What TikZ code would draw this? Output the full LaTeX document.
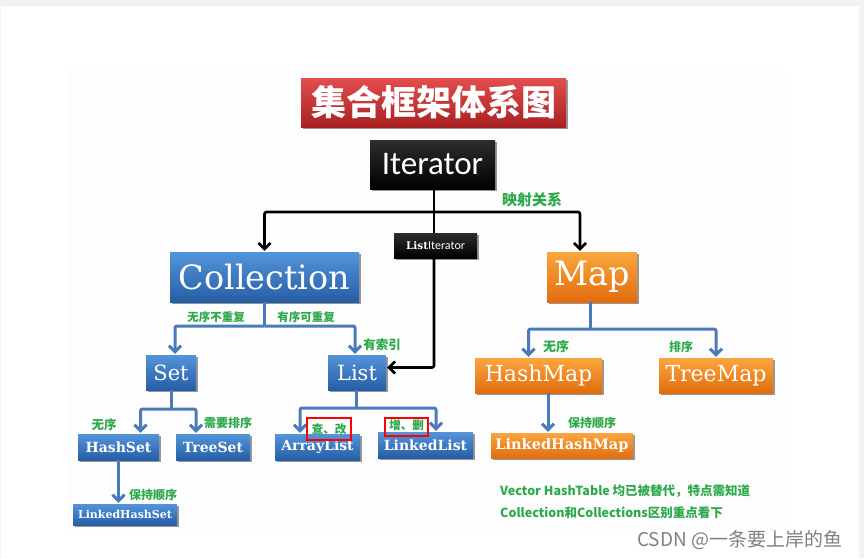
\documentclass[tikz,border=0pt]{standalone}
\usepackage{fontspec}
\setmainfont{DejaVu Serif}
\newfontfamily\cjk{Noto Sans CJK SC}
\newfontfamily\carl{Carlito}
\usetikzlibrary{arrows.meta,shadows,calc}
\definecolor{bluet}{RGB}{84,148,218}
\definecolor{blueb}{RGB}{38,94,166}
\definecolor{oranget}{RGB}{250,166,62}
\definecolor{orangeb}{RGB}{226,108,14}
\definecolor{redt}{RGB}{226,78,78}
\definecolor{redb}{RGB}{170,32,34}
\definecolor{blkt}{RGB}{45,45,45}
\definecolor{blkb}{RGB}{0,0,0}
\definecolor{bluel}{RGB}{74,122,186}
\definecolor{grn}{RGB}{44,170,74}
\definecolor{wm}{RGB}{128,128,128}
\definecolor{framec}{RGB}{242,242,242}
\definecolor{slide}{RGB}{253,253,253}
\begin{document}
\begin{tikzpicture}[x=1pt,y=-1pt,
  box/.style={inner sep=0pt, align=center, text=white,
    drop shadow={shadow xshift=1.5pt,shadow yshift=-2pt,opacity=0.4,fill=black}},
  bluebox/.style={box, top color=bluet, bottom color=blueb},
  orbox/.style={box, top color=oranget, bottom color=orangeb},
  redbox/.style={box, top color=redt, bottom color=redb},
  blkbox/.style={box, top color=blkt, bottom color=blkb},
  blu/.style={draw=bluel, line width=3pt, rounded corners=2pt,
    -{Straight Barb[length=6pt,width=12pt]}, shorten >=1pt},
  bluplain/.style={draw=bluel, line width=3pt},
  blk/.style={draw=black, line width=2.6pt, rounded corners=2pt,
    -{Straight Barb[length=6pt,width=12pt]}, shorten >=1pt},
  blkplain/.style={draw=black, line width=2.6pt},
  lbl/.style={text=grn, inner sep=0pt, font=\cjk\bfseries\fontsize{12}{12}\selectfont},
  redmark/.style={draw=red, line width=1.8pt, inner sep=0pt}
]
\useasboundingbox (0,0) rectangle (864,558);
\fill[framec] (0,0) rectangle (864,558);
\fill[white] (1,6) rectangle (859,558);
\fill[slide] (67,67) rectangle (785,530);

% boxes
\node[redbox, minimum width=265, minimum height=49,
  font=\cjk\bfseries\fontsize{35}{35}\selectfont] (title) at (433.5,102.5) {集合框架体系图};
\node[blkbox, minimum width=125, minimum height=49,
  font=\carl\fontsize{33}{33}\selectfont] (iter) at (432.5,164.5) {Iterator};
\node[blkbox, minimum width=83, minimum height=25] (listit) at (435.5,245.5)
  {{\bfseries\fontsize{10.5}{10.5}\selectfont List}{\carl\fontsize{12}{12}\selectfont Iterator}};
\node[bluebox, minimum width=189, minimum height=50,
  font=\fontsize{33.5}{33.5}\selectfont] (coll) at (264.5,277) {Collection};
\node[orbox, minimum width=90, minimum height=50,
  font=\fontsize{33.5}{33.5}\selectfont] (map) at (592,277) {Map};
\node[bluebox, minimum width=50, minimum height=35,
  font=\fontsize{21}{21}\selectfont] (set) at (171,372.5) {Set};
\node[bluebox, minimum width=58, minimum height=35,
  font=\fontsize{21}{21}\selectfont] (list) at (357,372.5) {List};
\node[orbox, minimum width=127, minimum height=35,
  font=\fontsize{22}{22}\selectfont] (hashmap) at (538.5,375.5) {HashMap};
\node[orbox, minimum width=114, minimum height=35,
  font=\fontsize{22}{22}\selectfont] (treemap) at (716,375.5) {TreeMap};
\node[bluebox, minimum width=81, minimum height=26,
  font=\bfseries\fontsize{14}{14}\selectfont] (hashset) at (118.5,447) {HashSet};
\node[bluebox, minimum width=74, minimum height=26,
  font=\bfseries\fontsize{14}{14}\selectfont] (treeset) at (213,447) {TreeSet};
\node[bluebox, minimum width=85, minimum height=26,
  font=\bfseries\fontsize{14}{14}\selectfont] (arraylist) at (317.5,447) {ArrayList};
\node[bluebox, minimum width=95, minimum height=26,
  font=\bfseries\fontsize{14}{14}\selectfont] (linkedlist) at (425.5,445) {LinkedList};
\node[bluebox, minimum width=104, minimum height=21,
  font=\bfseries\fontsize{11}{11}\selectfont] (lhs) at (125,514.5) {LinkedHashSet};
\node[orbox, minimum width=142, minimum height=25,
  font=\bfseries\fontsize{14.5}{14.5}\selectfont] (lhm) at (562,445.5) {LinkedHashMap};

% black connectors
\coordinate (hj) at (434,212);
\draw[blkplain] (iter.south -| hj) -- (listit.north -| hj);
\draw[blk] (listit.south -| hj) |- ([yshift=5pt]list.east);
\draw[blk] (hj) -| (coll.north);
\draw[blk] (hj) -| ([xshift=-12pt]map.north);

% collection branch
\coordinate (cj) at (264.5,326);
\draw[bluplain] (coll.south) -- (cj);
\draw[blu] (cj) -| ([xshift=4pt]set.north);
\draw[blu] (cj) -| ([xshift=-2pt]list.north);

% map branch
\coordinate (mj) at (590,329);
\draw[bluplain] (map.south -| mj) -- (mj);
\draw[blu] (mj) -| ([xshift=-10pt]hashmap.north);
\draw[blu] (mj) -| (treemap.north);

% set branch
\coordinate (sj) at (171,409);
\draw[bluplain] (set.south) -- (sj);
\draw[blu] (sj) -| ([xshift=22pt]hashset.north);
\draw[blu] (sj) -| ([xshift=-17pt]treeset.north);

% list branch
\coordinate (lj) at (356,408);
\draw[bluplain] (list.south -| lj) -- (lj);
\draw[blu] (lj) -| ([xshift=-17.5pt]arraylist.north);
\draw[blu] (lj) -| ([xshift=10.5pt]linkedlist.north);

% lower arrows
\draw[blu] (hashset.south) -- (hashset.south |- lhs.north);
\draw[blu] ([xshift=9.5pt]hashmap.south) -- ([xshift=9.5pt]hashmap.south |- lhm.north);

% labels
\node[lbl, font=\cjk\bfseries\fontsize{15}{15}\selectfont] (l1) at (532,200) {映射关系};
\node[lbl, font=\cjk\bfseries\fontsize{11.5}{11.5}\selectfont] (l2) at (216,317) {无序不重复};
\node[lbl, font=\cjk\bfseries\fontsize{11.5}{11.5}\selectfont] (l3) at (306,317) {有序可重复};
\node[lbl, font=\cjk\bfseries\fontsize{12.5}{12.5}\selectfont] (l4) at (382,345) {有索引};
\node[lbl, font=\cjk\bfseries\fontsize{13}{13}\selectfont] (l5) at (556,347) {无序};
\node[lbl] (l6) at (681,347) {排序};
\node[lbl, font=\cjk\bfseries\fontsize{12.5}{12.5}\selectfont] (l7) at (104,425) {无序};
\node[lbl] (l8) at (228,423) {需要排序};
\node[lbl] (l9) at (153,495) {保持顺序};
\node[lbl] (l10) at (592,423) {保持顺序};
\node[lbl, font=\cjk\bfseries\fontsize{11.5}{11.5}\selectfont] (l11) at (329,429.5) {查、改};
\node[lbl, font=\cjk\bfseries\fontsize{11.5}{11.5}\selectfont] (l12) at (406.5,425.5) {增、删};
\node[redmark, minimum width=44, minimum height=22] (r1) at (329,429) {};
\node[redmark, minimum width=43, minimum height=18] (r2) at (406.5,427) {};

% notes
\node[lbl, anchor=west, font=\cjk\bfseries\fontsize{12.5}{12.5}\selectfont] (n1) at (500,491)
  {Vector HashTable 均已被替代，特点需知道};
\node[lbl, anchor=west, font=\cjk\bfseries\fontsize{12.5}{12.5}\selectfont] (n2) at (500,513)
  {Collection和Collections区别重点看下};
\node[text=wm, inner sep=0pt, anchor=west, font=\cjk\fontsize{19}{19}\selectfont] (wmk) at (637,540)
  {CSDN @一条要上岸的鱼};
\end{tikzpicture}
\end{document}
